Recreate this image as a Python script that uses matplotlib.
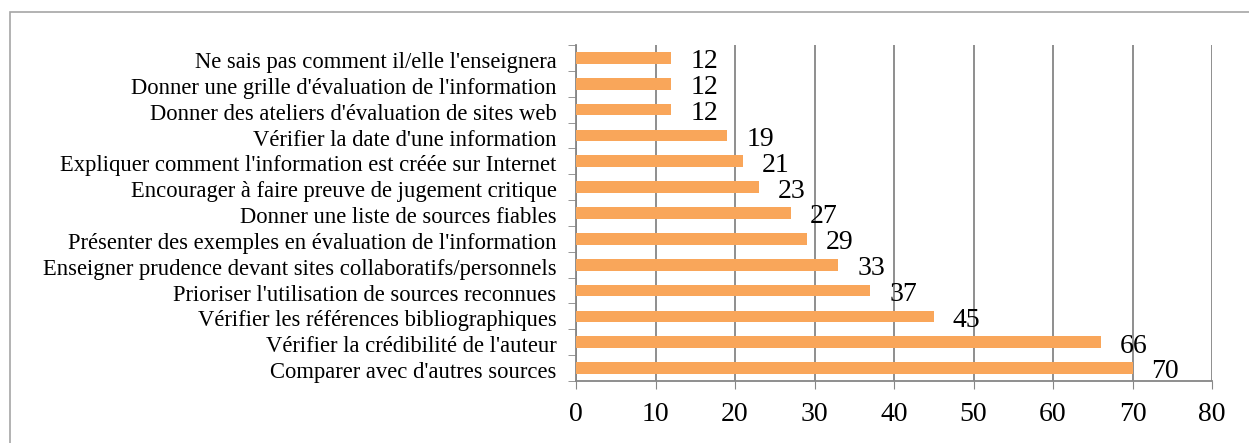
import numpy as np
import matplotlib.pyplot as plt
from matplotlib.patches import Rectangle

# Données (du haut vers le bas)
categories = [
    "Ne sais pas comment il/elle l'enseignera",
    "Donner une grille d'évaluation de l'information",
    "Donner des ateliers d'évaluation de sites web",
    "Vérifier la date d'une information",
    "Expliquer comment l'information est créée sur Internet",
    "Encourager à faire preuve de jugement critique",
    "Donner une liste de sources fiables",
    "Présenter des exemples en évaluation de l'information",
    "Enseigner prudence devant sites collaboratifs/personnels",
    "Prioriser l'utilisation de sources reconnues",
    "Vérifier les références bibliographiques",
    "Vérifier la crédibilité de l'auteur",
    "Comparer avec d'autres sources",
]
valeurs = [12, 12, 12, 19, 21, 23, 27, 29, 33, 37, 45, 66, 70]
graduations = [0, 10, 20, 30, 40, 50, 60, 70, 80]

plt.rcParams['font.family'] = ['Liberation Serif', 'DejaVu Serif']

fig = plt.figure(figsize=(12.49, 4.43), dpi=100)
ax = fig.add_axes([576/1249, 1-381/443, (1212-576)/1249, (381-45)/443])

# cadre autour du graphique
fig.patches.append(Rectangle((10/1249, -0.1), 1.2, (443-12)/443 + 0.1,
                             transform=fig.transFigure, fill=False,
                             edgecolor='#a6a6a6', linewidth=1.2))

n = len(categories)
y = np.arange(n)[::-1]
ax.barh(y, valeurs, height=0.45, color='#F9A65A', zorder=3)

for yi, v in zip(y, valeurs):
    ax.text(v + 2.4, yi - 0.15, str(v), va='center', ha='left', fontsize=20, color='black')

ax.set_xlim(0, 80)
ax.set_ylim(-0.5, n - 0.5)
ax.set_xticks(graduations)
ax.set_xticklabels([str(g) for g in graduations], fontsize=20)
ax.set_yticks(y - 0.08)
ax.set_yticklabels(categories, fontsize=16.3)
ax.set_yticks(np.arange(n + 1) - 0.5, minor=True)

ax.tick_params(axis='y', which='major', length=0, pad=14)
ax.tick_params(axis='y', which='minor', length=6, color='#868686', direction='out')
ax.tick_params(axis='x', length=6, color='#868686', direction='out', pad=9)

ax.grid(axis='x', color='#868686', linewidth=1.3, zorder=0)
for s in ['top', 'right']:
    ax.spines[s].set_visible(False)
for s in ['left', 'bottom']:
    ax.spines[s].set_color('#868686')
    ax.spines[s].set_linewidth(1.3)

fig.savefig('out.png', dpi=100)
